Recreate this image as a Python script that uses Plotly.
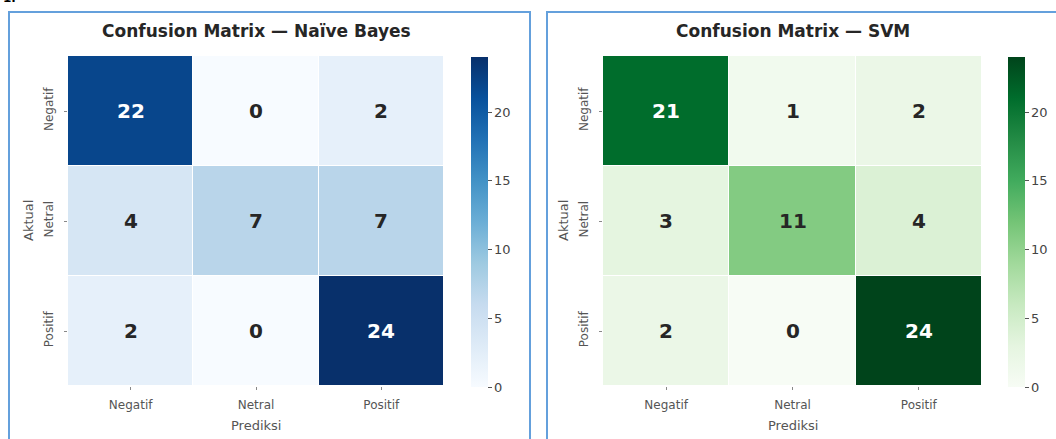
import plotly.graph_objects as go

# ---- data ----
labels = ["Negatif", "Netral", "Positif"]
nb_matrix = [[22, 0, 2],
             [4, 7, 7],
             [2, 0, 24]]
svm_matrix = [[21, 1, 2],
              [3, 11, 4],
              [2, 0, 24]]
titles = ["Confusion Matrix — Naïve Bayes", "Confusion Matrix — SVM"]
cbar_ticks = [0, 5, 10, 15, 20]
x_title = "Prediksi"
y_title = "Aktual"

blues = ['rgb(247,251,255)', 'rgb(222,235,247)', 'rgb(198,219,239)', 'rgb(158,202,225)',
         'rgb(107,174,214)', 'rgb(66,146,198)', 'rgb(33,113,181)', 'rgb(8,81,156)', 'rgb(8,48,107)']
greens = ['rgb(247,252,245)', 'rgb(229,245,224)', 'rgb(199,233,192)', 'rgb(161,217,155)',
          'rgb(116,196,118)', 'rgb(65,171,93)', 'rgb(35,139,69)', 'rgb(0,109,44)', 'rgb(0,68,27)']


def scale(cols):
    n = len(cols) - 1
    return [[i / n, c] for i, c in enumerate(cols)]


W, H = 1056, 439
FONT = "DejaVu Sans"


def fx(x):
    return x / W


def fy(y):
    return 1 - y / H


panels = [
    dict(z=nb_matrix, cs=scale(blues), x0=68, x1=444, cbx=471, border=(9, 530), title=titles[0]),
    dict(z=svm_matrix, cs=scale(greens), x0=603, x1=982, cbx=1008, border=(547, 1060), title=titles[1]),
]
top, bottom = 56, 386

fig = go.Figure()
annotations = []
shapes = []

for i, p in enumerate(panels):
    xa = "x" if i == 0 else "x2"
    ya = "y" if i == 0 else "y2"
    zmax = max(max(r) for r in p["z"])
    fig.add_trace(go.Heatmap(
        z=p["z"], x=labels, y=labels, xaxis=xa, yaxis=ya,
        colorscale=p["cs"], zmin=0, zmax=zmax, xgap=1, ygap=1,
        hoverinfo="skip",
        colorbar=dict(
            x=fx(p["cbx"]), xanchor="left", xref="paper", xpad=0, ypad=0,
            y=fy(bottom + 1), yanchor="bottom", len=(bottom - top) / H, lenmode="fraction",
            thickness=17, outlinewidth=0,
            tickvals=cbar_ticks, ticks="outside", ticklen=4, tickcolor="#555",
            tickfont=dict(family=FONT, size=13, color="#444"),
        ),
    ))
    axkey = "xaxis" if i == 0 else "xaxis2"
    aykey = "yaxis" if i == 0 else "yaxis2"
    fig.layout[axkey] = dict(
        domain=[fx(p["x0"]), fx(p["x1"])], anchor=ya, type="category",
        ticks="outside", ticklen=3, tickcolor="#888", showgrid=False, zeroline=False,
        showline=False, tickfont=dict(family=FONT, size=12, color="#555"),
        ticklabelstandoff=5,
    )
    fig.layout[aykey] = dict(
        domain=[fy(bottom), fy(top)], anchor=xa, type="category", autorange="reversed",
        ticks="outside", ticklen=3, tickcolor="#888", showgrid=False, zeroline=False,
        showline=False, tickangle=-90, tickfont=dict(family=FONT, size=12, color="#555"),
        ticklabelstandoff=6,
    )
    # cell values
    for r, row in enumerate(p["z"]):
        for c, v in enumerate(row):
            annotations.append(dict(
                x=labels[c], y=labels[r], xref=xa, yref=ya, text=f"<b>{v}</b>",
                showarrow=False,
                font=dict(family=FONT, size=20, color="white" if v > 0.6 * zmax else "#262626"),
            ))
    cx = (p["x0"] + p["x1"]) / 2
    annotations.append(dict(x=fx(cx), y=fy(31), xref="paper", yref="paper",
                            text=f"<b>{p['title']}</b>", showarrow=False,
                            font=dict(family=FONT, size=17, color="#262626"),
                            xanchor="center", yanchor="middle"))
    annotations.append(dict(x=fx(cx), y=fy(425), xref="paper", yref="paper",
                            text=x_title, showarrow=False,
                            font=dict(family=FONT, size=13, color="#555"),
                            xanchor="center", yanchor="middle"))
    annotations.append(dict(x=fx(p["x0"] - 40), y=fy((top + bottom) / 2), xref="paper", yref="paper",
                            text=y_title, showarrow=False, textangle=-90,
                            font=dict(family=FONT, size=13, color="#555"),
                            xanchor="center", yanchor="middle"))
    bx0, bx1 = p["border"]
    shapes.append(dict(type="rect", xref="paper", yref="paper",
                       x0=fx(bx0), x1=fx(bx1), y0=fy(12), y1=-0.05,
                       line=dict(color="rgb(100,160,220)", width=2)))

annotations.append(dict(x=fx(1), y=fy(-2), xref="paper", yref="paper", text="<b>1.</b>",
                        showarrow=False, xanchor="left", yanchor="middle",
                        font=dict(family=FONT, size=12, color="black")))

fig.update_layout(
    width=W, height=H, margin=dict(l=0, r=0, t=0, b=0),
    paper_bgcolor="white", plot_bgcolor="white",
    annotations=annotations, shapes=shapes, showlegend=False,
)

fig.write_html("out.html")
